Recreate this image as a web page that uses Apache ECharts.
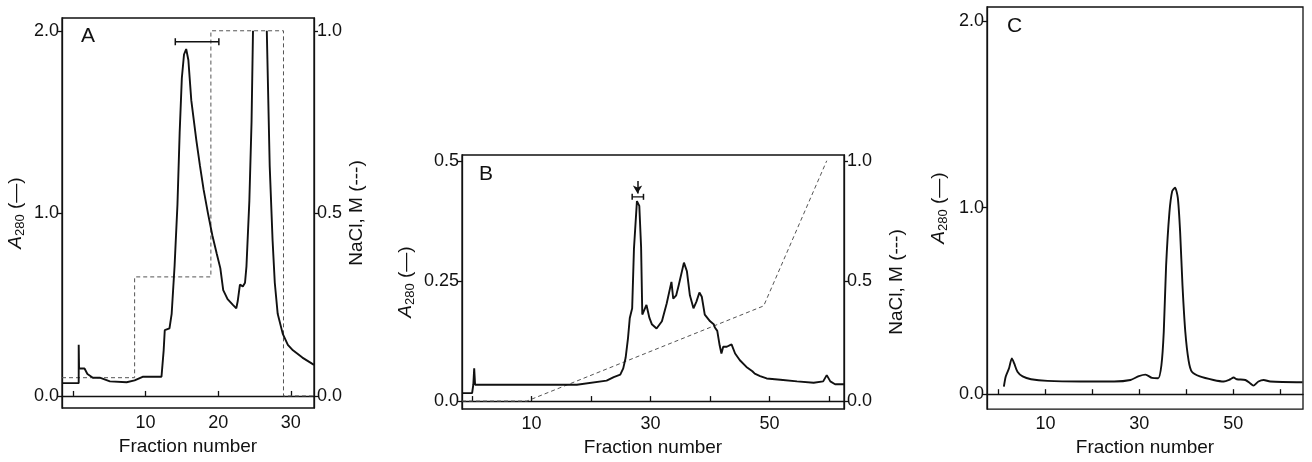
<!DOCTYPE html>
<html>
<head>
<meta charset="utf-8">
<script src="https://cdn.jsdelivr.net/npm/echarts@6/dist/echarts.min.js"></script>
<style>
html,body{margin:0;padding:0;background:#fff;}
#chart{width:1312px;height:462px;}
</style>
</head>
<body>
<div id="chart"></div>
<script>
// ---------- Panel A ----------
const fracA = [-1.5, 0.8, 0.8, 0.85, 1.6, 2.0, 2.75, 3.7, 5.1, 7.4, 8.5, 9.6, 12.2, 12.5, 12.65, 13.3, 13.6, 14.0, 14.4, 14.7, 15.0, 15.3, 15.6, 15.9, 16.3, 17.0, 17.5, 18.0, 18.6, 19.2, 19.8, 20.3, 20.7, 21.3, 22.0, 22.5, 22.7, 23.0, 23.4, 23.7, 23.9, 24.3, 24.6, 24.8, 25.8, 26.7, 27.1, 27.5, 27.8, 28.2, 28.9, 29.6, 30.3, 31.6, 33.2];
const a280A = [0.07, 0.07, 0.28, 0.15, 0.15, 0.12, 0.10, 0.10, 0.08, 0.075, 0.085, 0.105, 0.105, 0.25, 0.36, 0.37, 0.45, 0.71, 1.05, 1.44, 1.74, 1.87, 1.90, 1.84, 1.62, 1.40, 1.26, 1.13, 1.0, 0.88, 0.78, 0.70, 0.58, 0.53, 0.50, 0.48, 0.52, 0.61, 0.60, 0.62, 0.71, 1.07, 1.5, 2.0, null, 2.0, 1.26, 0.85, 0.62, 0.45, 0.34, 0.28, 0.25, 0.21, 0.17];
const naclFracA = [-1.5, 8.5, 8.5, 19.0, 19.0, 29.0, 29.0, 33.2];
const naclA = [0.05, 0.05, 0.326, 0.326, 1.0, 1.0, 0.0, 0.0];
const bracketA = [[14.1, 1.94], [20.1, 1.94]];
const xTicksA = [0, 10, 20, 30];
const xLabelsA = [10, 20, 30];
const yTicksA = [0, 1, 2];
const yRightTicksA = [0, 0.5, 1.0];

// ---------- Panel B ----------
const fracB = [-1.7, 0.0, 0.2, 0.35, 0.5, 17.6, 22.6, 23.8, 24.9, 25.4, 25.8, 26.2, 26.5, 26.9, 27.2, 27.7, 28.1, 28.4, 28.6, 28.8, 29.3, 29.8, 30.2, 31.0, 31.9, 32.7, 33.5, 33.8, 34.3, 34.7, 35.6, 36.1, 36.6, 37.2, 37.7, 38.2, 38.6, 39.1, 40.0, 40.6, 40.8, 41.2, 41.6, 41.9, 42.2, 42.8, 43.6, 44.2, 45.0, 46.1, 47.1, 47.5, 48.4, 49.5, 51.8, 54.6, 57.4, 59.0, 59.6, 60.2, 61.0, 62.5];
const a280B = [0.0165, 0.0165, 0.034, 0.068, 0.034, 0.034, 0.0425, 0.05, 0.055, 0.068, 0.09, 0.131, 0.173, 0.193, 0.317, 0.416, 0.406, 0.32, 0.18, 0.176, 0.2, 0.173, 0.16, 0.151, 0.166, 0.203, 0.248, 0.213, 0.22, 0.24, 0.288, 0.27, 0.22, 0.193, 0.207, 0.226, 0.217, 0.18, 0.166, 0.16, 0.153, 0.146, 0.116, 0.099, 0.113, 0.113, 0.118, 0.099, 0.085, 0.071, 0.062, 0.057, 0.052, 0.047, 0.0445, 0.041, 0.038, 0.041, 0.054, 0.041, 0.035, 0.035];
const naclFracB = [-1.7, 9.2, 49.0, 59.6];
const naclB = [0.0, 0.0, 0.396, 1.0];
const bracketB = [[26.9, 0.425], [28.8, 0.425]];
const arrowB = [[27.8, 0.458], [27.8, 0.432]];
const xTicksB = [0, 10, 20, 30, 40, 50, 60];
const xLabelsB = [10, 30, 50];
const yTicksB = [0, 0.25, 0.5];
const yRightTicksB = [0, 0.5, 1.0];

// ---------- Panel C ----------
const fracC = [1.1, 1.5, 2.2, 2.8, 3.3, 4.0, 5.1, 6.9, 10.4, 17.5, 24.6, 28.1, 29.9, 31.3, 32.7, 34.0, 34.7, 35.2, 35.7, 36.4, 37.0, 37.6, 38.2, 38.7, 39.2, 39.8, 40.5, 41.2, 42.9, 45.8, 48.0, 49.4, 50.1, 50.8, 52.6, 53.6, 54.3, 55.4, 56.5, 57.9, 64.8];
const a280C = [0.041, 0.095, 0.139, 0.192, 0.165, 0.12, 0.095, 0.080, 0.071, 0.068, 0.068, 0.076, 0.097, 0.105, 0.087, 0.085, 0.155, 0.333, 0.688, 0.972, 1.088, 1.106, 1.052, 0.866, 0.581, 0.333, 0.18, 0.12, 0.095, 0.076, 0.068, 0.08, 0.089, 0.08, 0.076, 0.059, 0.046, 0.068, 0.076, 0.068, 0.064];
const xTicksC = [0, 10, 20, 30, 40, 50, 60];
const xLabelsC = [10, 30, 50];
const yTicksC = [0, 1, 2];

const panelLetters = ['A', 'B', 'C'];
const xName = 'Fraction number';
const naclName = 'NaCl, M (---)';

const FONT = '"Liberation Sans", Arial, Helvetica, sans-serif';
const INK = '#111';

function pairs(xs, ys) { return xs.map((x, i) => [x, ys[i]]); }
function fmt1(v) { return Number(v).toFixed(1); }
function fmtB(v) { return v === 0.25 ? '0.25' : Number(v).toFixed(1); }

const a280Name = '{a|A}{s|280} (—)';
const a280Rich = {
  a: { fontStyle: 'italic', fontSize: 19, fontFamily: FONT, color: INK, lineHeight: 22, verticalAlign: 'middle' },
  s: { fontSize: 13, fontFamily: FONT, color: INK, lineHeight: 22, verticalAlign: 'bottom', padding: [7, 0, 0, 0] }
};

function xAxisDef(gi, min, max, ticks, labels, gap) {
  return {
    type: 'value', gridIndex: gi, min: min, max: max,
    name: xName, nameLocation: 'middle', nameGap: gap,
    nameTextStyle: { fontFamily: FONT, fontSize: 19, color: INK },
    axisLine: { show: true, lineStyle: { color: INK, width: 1.3 } },
    axisTick: { show: true, inside: true, length: 5, customValues: ticks, lineStyle: { color: INK, width: 1.3 } },
    axisLabel: { customValues: labels, fontFamily: FONT, fontSize: 18, color: INK, margin: 6 },
    splitLine: { show: false }
  };
}
function yAxisDef(gi, pos, min, max, ticks, fmt, name, gap, rich) {
  const ax = {
    type: 'value', gridIndex: gi, position: pos, min: min, max: max,
    axisLine: { show: true, onZero: false, lineStyle: { color: INK, width: 1.3 } },
    axisTick: { show: true, inside: false, length: 4, customValues: ticks, lineStyle: { color: INK, width: 1.3 } },
    axisLabel: { customValues: ticks, formatter: fmt, fontFamily: FONT, fontSize: 18, color: INK, margin: 3 },
    splitLine: { show: false },
    name: name, nameLocation: 'middle', nameRotate: 90, nameGap: gap,
    nameTextStyle: { fontFamily: FONT, fontSize: 19, color: INK }
  };
  if (rich) ax.nameTextStyle.rich = rich;
  return ax;
}

const chart = echarts.init(document.getElementById('chart'), null, { renderer: 'canvas' });

const option = {
  backgroundColor: '#ffffff',
  animation: false,
  grid: [
    { left: 62, right: 998, top: 18, bottom: 54, show: true, borderColor: INK, borderWidth: 1.3 },
    { left: 462, right: 468, top: 155, bottom: 50, show: true, borderColor: INK, borderWidth: 1.3 },
    { left: 987, right: 9, top: 7, bottom: 51, show: true, borderColor: INK, borderWidth: 1.3 }
  ],
  xAxis: [
    xAxisDef(0, -1.5, 33.2, xTicksA, xLabelsA, 29),
    xAxisDef(1, -1.7, 62.5, xTicksB, xLabelsB, 29),
    xAxisDef(2, -2.5, 64.9, xTicksC, xLabelsC, 27)
  ],
  yAxis: [
    yAxisDef(0, 'left', -0.066, 2.07, yTicksA, fmt1, a280Name, 35, a280Rich),
    yAxisDef(0, 'right', -0.033, 1.035, yRightTicksA, fmt1, naclName, 33, null),
    yAxisDef(1, 'left', -0.0165, 0.512, yTicksB, fmtB, a280Name, 45, a280Rich),
    yAxisDef(1, 'right', -0.033, 1.024, yRightTicksB, fmt1, naclName, 43, null),
    yAxisDef(2, 'left', -0.08, 2.075, yTicksC, fmt1, a280Name, 37, a280Rich)
  ],
  graphic: [
    { type: 'text', left: 81, top: 26, style: { text: panelLetters[0], font: '21px ' + FONT, fill: INK } },
    { type: 'text', left: 479, top: 164, style: { text: panelLetters[1], font: '21px ' + FONT, fill: INK } },
    { type: 'text', left: 1007, top: 16, style: { text: panelLetters[2], font: '21px ' + FONT, fill: INK } }
  ],
  series: [
    { type: 'line', xAxisIndex: 0, yAxisIndex: 0, data: pairs(fracA, a280A), showSymbol: false, symbol: 'none',
      lineStyle: { color: INK, width: 1.9 }, connectNulls: false, z: 3 },
    { type: 'line', xAxisIndex: 0, yAxisIndex: 1, data: pairs(naclFracA, naclA), showSymbol: false, symbol: 'none',
      lineStyle: { color: '#555', width: 1, type: [4, 3] }, z: 2 },
    { type: 'line', xAxisIndex: 0, yAxisIndex: 0, data: bracketA, symbol: 'rect', symbolSize: [1.5, 7], showSymbol: true,
      itemStyle: { color: INK }, lineStyle: { color: INK, width: 1.3 }, z: 4 },

    { type: 'line', xAxisIndex: 1, yAxisIndex: 2, data: pairs(fracB, a280B), showSymbol: false, symbol: 'none',
      lineStyle: { color: INK, width: 1.9 }, z: 3 },
    { type: 'line', xAxisIndex: 1, yAxisIndex: 3, data: pairs(naclFracB, naclB), showSymbol: false, symbol: 'none',
      lineStyle: { color: '#555', width: 1, type: [4, 3] }, z: 2 },
    { type: 'line', xAxisIndex: 1, yAxisIndex: 2, data: bracketB, symbol: 'rect', symbolSize: [1.5, 6], showSymbol: true,
      itemStyle: { color: INK }, lineStyle: { color: INK, width: 1.3 }, z: 4,
      markLine: { silent: true, symbol: ['none', 'arrow'], symbolSize: [7, 8], label: { show: false },
        lineStyle: { color: INK, width: 1.5, type: 'solid' },
        data: [[{ coord: arrowB[0] }, { coord: arrowB[1] }]] } },

    { type: 'line', xAxisIndex: 2, yAxisIndex: 4, data: pairs(fracC, a280C), showSymbol: false, symbol: 'none',
      smooth: 0.25, lineStyle: { color: INK, width: 1.9 }, z: 3 }
  ]
};
chart.setOption(option);
</script>
</body>
</html>
